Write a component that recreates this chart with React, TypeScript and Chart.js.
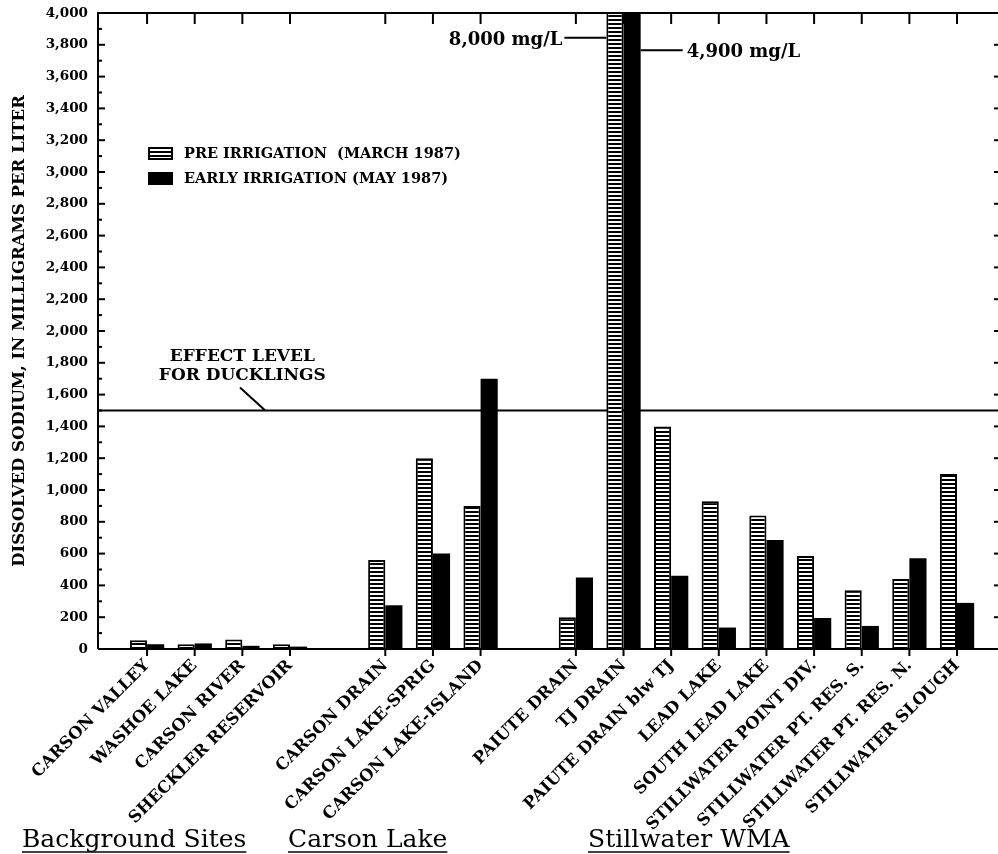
import React, { useEffect, useRef } from 'react';
import { Chart, registerables } from 'chart.js';

Chart.register(...registerables);

// ---------- data ----------
const categories = [
  'CARSON VALLEY',
  'WASHOE LAKE',
  'CARSON RIVER',
  'SHECKLER RESERVOIR',
  '',
  'CARSON DRAIN',
  'CARSON LAKE-SPRIG',
  'CARSON LAKE-ISLAND',
  '',
  'PAIUTE DRAIN',
  'TJ DRAIN',
  'PAIUTE DRAIN blw TJ',
  'LEAD LAKE',
  'SOUTH LEAD LAKE',
  'STILLWATER POINT DIV.',
  'STILLWATER PT. RES. S.',
  'STILLWATER PT. RES. N.',
  'STILLWATER SLOUGH',
];
const preIrrigation: (number | null)[] = [
  55, 30, 60, 30, null, 560, 1200, 900, null, 200, 8000, 1400, 930, 840, 585, 370, 440, 1100,
];
const earlyIrrigation: (number | null)[] = [
  30, 35, 20, 15, null, 275, 600, 1700, null, 450, 4900, 460, 135, 685, 195, 145, 570, 290,
];
const seriesNames = ['PRE IRRIGATION  (MARCH 1987)', 'EARLY IRRIGATION (MAY 1987)'];
const yMin = 0;
const yMax = 4000;
const yStep = 200;
const yMinorStep = 100;
const yTitle = 'DISSOLVED SODIUM, IN MILLIGRAMS PER LITER';
const effectLevel = 1500;
const effectLabel = ['EFFECT LEVEL', 'FOR DUCKLINGS'];
const groupLabels = ['Background Sites', 'Carson Lake', 'Stillwater WMA'];
const offScaleSite = 'TJ DRAIN';

const FONT = '"DejaVu Serif", serif';

function toPoints(vals: (number | null)[]) {
  return vals
    .map((v, i) => ({ x: i, y: v }))
    .filter((d) => d.y !== null) as { x: number; y: number }[];
}

function makeStripePattern(): CanvasPattern | string {
  const c = document.createElement('canvas');
  c.width = 4;
  c.height = 4;
  const g = c.getContext('2d');
  if (!g) return '#000';
  g.fillStyle = '#000';
  g.fillRect(0, 0, 4, 4);
  g.fillStyle = '#fff';
  g.fillRect(0, 1, 4, 2);
  const p = g.createPattern(c, 'repeat');
  return p || '#000';
}

export default function App() {
  const ref = useRef<HTMLCanvasElement | null>(null);

  useEffect(() => {
    const canvas = ref.current;
    if (!canvas) return;
    const stripe = makeStripePattern();
    const preData = toPoints(preIrrigation);
    const earlyData = toPoints(earlyIrrigation);

    const annot = {
      id: 'annot',
      beforeDatasetsDraw(chart: any) {
        const { ctx, chartArea: a, scales } = chart;
        const yl = scales.y.getPixelForValue(effectLevel);
        ctx.save();
        ctx.strokeStyle = '#000';
        ctx.lineWidth = 2;
        ctx.beginPath();
        ctx.moveTo(a.left, yl);
        ctx.lineTo(a.right, yl);
        ctx.stroke();
        ctx.restore();
      },
      afterDatasetsDraw(chart: any) {
        const { ctx, chartArea: a, scales } = chart;
        const xs = scales.x;
        const ys = scales.y;
        ctx.save();
        ctx.strokeStyle = '#000';
        ctx.fillStyle = '#000';
        ctx.lineWidth = 2;
        // frame: left, top, bottom
        ctx.beginPath();
        ctx.moveTo(a.left, a.bottom);
        ctx.lineTo(a.left, a.top);
        ctx.lineTo(a.right, a.top);
        ctx.moveTo(a.left, a.bottom);
        ctx.lineTo(a.right, a.bottom);
        ctx.stroke();
        // left ticks (inward)
        for (let v = yMin; v <= yMax; v += yMinorStep) {
          const py = ys.getPixelForValue(v);
          const len = v % yStep === 0 ? 7 : 4;
          ctx.beginPath();
          ctx.moveTo(a.left, py);
          ctx.lineTo(a.left + len, py);
          ctx.stroke();
        }
        // right ticks (inward)
        for (let v = yMin + yStep; v < yMax; v += yStep) {
          const py = ys.getPixelForValue(v);
          ctx.beginPath();
          ctx.moveTo(a.right - 4, py);
          ctx.lineTo(a.right, py);
          ctx.stroke();
        }
        // top & bottom ticks at sites
        categories.forEach((c, i) => {
          if (!c) return;
          const px = xs.getPixelForValue(i);
          ctx.beginPath();
          ctx.moveTo(px, a.top);
          ctx.lineTo(px, a.top + 11);
          ctx.moveTo(px, a.bottom);
          ctx.lineTo(px, a.bottom + 7);
          ctx.stroke();
        });

        // effect level label
        ctx.font = `bold 17px ${FONT}`;
        ctx.textAlign = 'center';
        ctx.textBaseline = 'middle';
        const ex = xs.getPixelForValue(2.0);
        ctx.fillText(effectLabel[0], ex, ys.getPixelForValue(1840));
        ctx.fillText(effectLabel[1], ex, ys.getPixelForValue(1720));
        ctx.beginPath();
        ctx.moveTo(xs.getPixelForValue(1.95), ys.getPixelForValue(1644));
        ctx.lineTo(xs.getPixelForValue(2.48), ys.getPixelForValue(effectLevel));
        ctx.stroke();

        // off-scale values
        const tj = categories.indexOf(offScaleSite);
        const m0 = chart.getDatasetMeta(0);
        const m1 = chart.getDatasetMeta(1);
        const e0 = m0.data[preData.findIndex((d) => d.x === tj)];
        const e1 = m1.data[earlyData.findIndex((d) => d.x === tj)];
        if (e0 && e1) {
          const left = e0.x - e0.width / 2;
          const right = e1.x + e1.width / 2;
          const y0 = ys.getPixelForValue(3845);
          const y1 = ys.getPixelForValue(3765);
          ctx.beginPath();
          ctx.moveTo(left - 42, y0);
          ctx.lineTo(left, y0);
          ctx.moveTo(right, y1);
          ctx.lineTo(right + 42, y1);
          ctx.stroke();
          ctx.font = `bold 18px ${FONT}`;
          ctx.textAlign = 'right';
          ctx.fillText(
            `${(preIrrigation[tj] as number).toLocaleString('en-US')} mg/L`,
            left - 44,
            y0 + 3
          );
          ctx.textAlign = 'left';
          ctx.fillText(
            `${(earlyIrrigation[tj] as number).toLocaleString('en-US')} mg/L`,
            right + 46,
            y1 + 2
          );
        }

        // legend
        ctx.fillStyle = stripe as any;
        ctx.fillRect(148, 147, 25, 13);
        ctx.strokeRect(149, 148, 23, 11);
        ctx.fillStyle = '#000';
        ctx.fillRect(148, 172, 25, 13);
        ctx.font = `bold 14.5px ${FONT}`;
        ctx.textAlign = 'left';
        ctx.textBaseline = 'middle';
        ctx.fillText(seriesNames[0], 184, 154);
        ctx.fillText(seriesNames[1], 184, 179);

        // group labels
        ctx.font = `25px ${FONT}`;
        ctx.textBaseline = 'alphabetic';
        const gx = [22, 288, 588];
        ctx.lineWidth = 1.5;
        groupLabels.forEach((g, k) => {
          ctx.fillText(g, gx[k], 847);
          const w = ctx.measureText(g).width;
          ctx.beginPath();
          ctx.moveTo(gx[k], 852);
          ctx.lineTo(gx[k] + w, 852);
          ctx.stroke();
        });
        ctx.restore();
      },
    };

    const chart = new Chart(canvas, {
      type: 'bar',
      data: {
        datasets: [
          {
            label: seriesNames[0],
            data: preData as any,
            backgroundColor: stripe as any,
            borderColor: '#000',
            borderWidth: 2,
            borderSkipped: 'start',
          },
          {
            label: seriesNames[1],
            data: earlyData as any,
            backgroundColor: '#000',
            borderWidth: 0,
          },
        ],
      },
      options: {
        animation: false,
        responsive: false,
        maintainAspectRatio: false,
        layout: { padding: { top: 13, right: 0, left: 0, bottom: 0 } },
        plugins: { legend: { display: false }, tooltip: { enabled: false } },
        datasets: { bar: { categoryPercentage: 0.72, barPercentage: 1 } },
        scales: {
          x: {
            type: 'linear',
            offset: false,
            min: -1.03,
            max: 17.86,
            grid: { display: false, drawTicks: false, offset: false },
            border: { display: false },
            afterBuildTicks: (s: any) => {
              s.ticks = categories
                .map((c, i) => ({ value: i, c }))
                .filter((t) => t.c !== '')
                .map((t) => ({ value: t.value }));
            },
            afterFit: (s: any) => {
              s.height = 205;
              s.paddingLeft = 0;
              s.paddingRight = 0;
            },
            ticks: {
              autoSkip: false,
              minRotation: 45,
              maxRotation: 45,
              padding: 7,
              color: '#000',
              font: { family: FONT, size: 16.5, weight: 'bold' },
              callback: (v: any) => categories[v as number] ?? '',
            },
          },
          y: {
            min: yMin,
            max: yMax,
            grid: { display: false, drawTicks: false },
            border: { display: false },
            afterFit: (s: any) => {
              s.width = 98;
              s.paddingTop = 0;
              s.paddingBottom = 0;
            },
            ticks: {
              stepSize: yStep,
              padding: 10,
              color: '#000',
              font: { family: FONT, size: 13.5, weight: 'bold' },
              callback: (v: any) => Number(v).toLocaleString('en-US'),
            },
            title: {
              display: true,
              text: yTitle,
              color: '#000',
              font: { family: FONT, size: 16.5, weight: 'bold' },
              padding: { top: 10, bottom: 0 },
            },
          },
        },
      },
      plugins: [annot],
    } as any);

    return () => chart.destroy();
  }, []);

  return (
    <div style={{ position: 'absolute', left: 0, top: 0, width: 998, height: 854, background: '#fff' }}>
      <canvas ref={ref} width={998} height={854} style={{ width: 998, height: 854, display: 'block' }} />
    </div>
  );
}
